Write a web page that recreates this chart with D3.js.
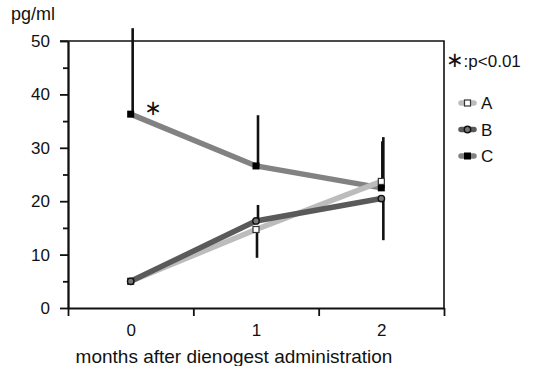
<!DOCTYPE html>
<html>
<head>
<meta charset="utf-8">
<script src="https://cdn.jsdelivr.net/npm/d3@7"></script>
<style>
  body { margin: 0; background: #fff; }
  svg text { font-family: "Liberation Sans", Arial, sans-serif; fill: #111; }
</style>
</head>
<body>
<div class="canvas"></div>
<script>
// data
const months = [0, 1, 2]
const seriesNames = ['A', 'B', 'C']
const valuesA = [5, 14.7, 23.7]
const valuesB = [5, 16.3, 20.5]
const valuesC = [36.3, 26.6, 22.5]
// one-sided error bars: end value of each bar (null = none)
const errA = [null, 9.4, 31.2]
const errB = [null, 19.3, 12.7]
const errC = [52.4, 36.1, 32.0]
const yTicks = [0, 10, 20, 30, 40, 50]
const yMinor = [5, 15, 25, 35, 45]
const xLabel = 'months after dienogest administration'
const yLabel = 'pg/ml'
const sigMark = '∗'
const sigNote = ':p<0.01'

const colors = { A: '#bcbcbc', B: '#5a5a5a', C: '#828282' }

const width = 534, height = 366
const svg = d3.select('.canvas').append('svg')
    .attr('width', width)
    .attr('height', height)

// scales
const x = d3.scaleLinear().domain([-0.5, 2.5]).range([68, 444])
const y = d3.scaleLinear().domain([0, 50]).range([308, 41])

// frame: top and right
svg.append('path')
    .attr('d', `M60,${y(50)}H${x(2.5)}V${y(0)}`)
    .attr('fill', 'none')
    .attr('stroke', '#111')
    .attr('stroke-width', 1.6)

// y axis
const yAxisGroup = svg.append('g').attr('transform', `translate(${x(-0.5)},0)`)
yAxisGroup.call(d3.axisLeft(y).tickValues(yTicks).tickSize(8).tickSizeOuter(0).tickPadding(10))
const yMinorGroup = svg.append('g').attr('transform', `translate(${x(-0.5)},0)`)
yMinorGroup.call(d3.axisLeft(y).tickValues(yMinor).tickSize(5).tickSizeOuter(0).tickFormat(''))

// x axis: ticks on boundaries, labels at centres
const xAxisGroup = svg.append('g').attr('transform', `translate(0,${y(0)})`)
xAxisGroup.call(d3.axisBottom(x).tickValues([-0.5, 0.5, 1.5, 2.5]).tickSize(8).tickSizeOuter(0).tickFormat(''))
const xLabelGroup = svg.append('g').attr('transform', `translate(0,${y(0)})`)
xLabelGroup.call(d3.axisBottom(x).tickValues(months).tickSize(0).tickPadding(16).tickFormat(d3.format('d')))
xLabelGroup.select('.domain').remove()

svg.selectAll('.domain, .tick line')
    .attr('stroke', '#111')
    .attr('stroke-width', 1.8)
svg.selectAll('.tick text')
    .style('font-size', '17px')
    .style('font-family', '"Liberation Sans", Arial, sans-serif')
    .attr('fill', '#111')

// axis titles
svg.append('text')
    .attr('x', 11).attr('y', 20)
    .style('font-size', '18px')
    .text(yLabel)
svg.append('text')
    .attr('x', 234).attr('y', 363)
    .attr('text-anchor', 'middle')
    .style('font-size', '19px')
    .text(xLabel)

// series
const series = [
    { name: 'C', vals: valuesC, err: errC, dx: 2 },
    { name: 'A', vals: valuesA, err: errA, dx: 1 },
    { name: 'B', vals: valuesB, err: errB, dx: 2 }
]

const line = d3.line()
    .x((d, i) => x(months[i]))
    .y(d => y(d))

series.forEach(s => {
    svg.append('path')
        .datum(s.vals)
        .attr('fill', 'none')
        .attr('stroke', colors[s.name])
        .attr('stroke-width', 5.5)
        .attr('d', line)
})

// error bars
series.forEach(s => {
    svg.selectAll(null)
        .data(s.err.map((e, i) => ({ e, v: s.vals[i], m: months[i] })).filter(d => d.e !== null))
        .enter().append('line')
            .attr('x1', d => x(d.m) + s.dx)
            .attr('x2', d => x(d.m) + s.dx)
            .attr('y1', d => y(d.v))
            .attr('y2', d => y(d.e))
            .attr('stroke', '#111')
            .attr('stroke-width', 2.6)
})

// markers
function drawMarker(g, name, cx, cy) {
    if (name === 'A') {
        g.append('rect')
            .attr('x', cx - 3).attr('y', cy - 3)
            .attr('width', 6).attr('height', 6)
            .attr('fill', '#fff').attr('stroke', '#333').attr('stroke-width', 1.2)
    } else if (name === 'B') {
        g.append('circle')
            .attr('cx', cx).attr('cy', cy).attr('r', 3.2)
            .attr('fill', '#777').attr('stroke', '#111').attr('stroke-width', 1.4)
    } else {
        g.append('rect')
            .attr('x', cx - 3.5).attr('y', cy - 3.5)
            .attr('width', 7).attr('height', 7)
            .attr('fill', '#000')
    }
}

series.forEach(s => {
    s.vals.forEach((v, i) => drawMarker(svg, s.name, x(months[i]), y(v)))
})

// significance asterisk at month 0
svg.append('text')
    .attr('x', 153).attr('y', 115)
    .attr('text-anchor', 'middle')
    .style('font-family', '"DejaVu Sans", sans-serif')
    .style('font-size', '21px')
    .text(sigMark)

// legend
const note = svg.append('text')
    .attr('x', 446).attr('y', 67)
    .style('font-size', '17px')
note.append('tspan')
    .style('font-family', '"DejaVu Sans", sans-serif')
    .style('font-size', '21px')
    .text(sigMark)
note.append('tspan').text(sigNote)

const legendY = d3.scalePoint().domain(seriesNames).range([103, 156])
seriesNames.forEach(n => {
    const ly = legendY(n)
    svg.append('line')
        .attr('x1', 461).attr('x2', 474)
        .attr('y1', ly).attr('y2', ly)
        .attr('stroke', colors[n])
        .attr('stroke-width', 5.5)
        .attr('stroke-linecap', 'round')
    drawMarker(svg, n, 467.5, ly)
    svg.append('text')
        .attr('x', 481).attr('y', ly + 6)
        .style('font-size', '17px')
        .text(n)
})
</script>
</body>
</html>
